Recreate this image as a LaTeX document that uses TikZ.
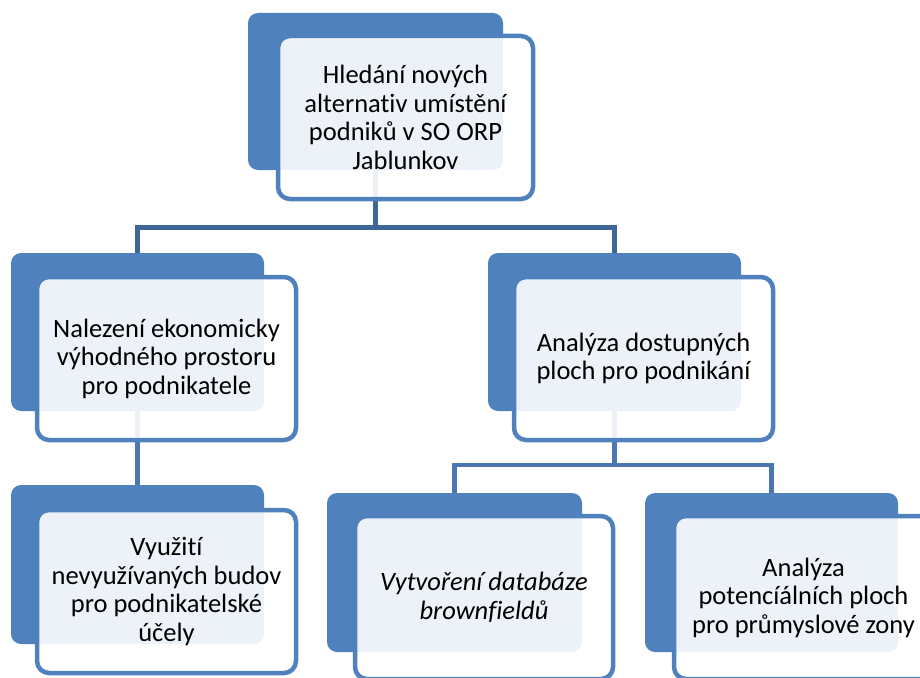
\documentclass[tikz,border=0pt]{standalone}
\usepackage{fontspec}
\setmainfont{Carlito}[Ligatures=NoCommon]
\definecolor{boxblue}{HTML}{4F81BD}
\definecolor{linetop}{HTML}{3E6696}
\definecolor{linesub}{HTML}{4A77B0}
\begin{document}
\begin{tikzpicture}[x=1pt,y=-1pt,
  backbox/.style={rectangle, rounded corners=10pt, fill=boxblue, draw=none, inner sep=0pt},
  frontbox/.style={rectangle, rounded corners=12pt, fill=white, fill opacity=0.9, text opacity=1,
    draw=boxblue, draw opacity=1, line width=4.5pt, inner sep=0pt, align=center,
    font=\fontsize{26.5}{28.5}\selectfont},
  contop/.style={draw=linetop, line width=4.5pt},
  consub/.style={draw=linesub, line width=4.5pt}]
\useasboundingbox (0,0) rectangle (920,677);
\clip (0,0) rectangle (920,677);
% junction coordinates
\coordinate (tj) at (375.5,227.5);
\coordinate (rj) at (614.5,465);
% connectors (drawn first, behind all boxes)
\coordinate (tbc) at (375.5,91.5);
\coordinate (lbc) at (137.5,332);
\coordinate (rbc) at (614.5,332);
\coordinate (llbc) at (137.5,564.5);
\coordinate (mbc) at (454.5,572.5);
\coordinate (rrbc) at (771.5,572.5);
\draw[contop] (tbc) -- (tj) -| (lbc);
\draw[contop] (tj) -| (rbc);
\draw[consub] (lbc) -- (llbc);
\draw[consub] (rbc) -- (rj) -| (mbc);
\draw[consub] (rj) -| (rrbc);
% back boxes
\node[backbox, minimum width=255pt, minimum height=157pt] (tb) at (tbc) {};
\node[backbox, minimum width=253pt, minimum height=158pt] (lb) at (lbc) {};
\node[backbox, minimum width=253pt, minimum height=158pt] (rb) at (rbc) {};
\node[backbox, minimum width=253pt, minimum height=159pt] (llb) at (llbc) {};
\node[backbox, minimum width=255pt, minimum height=159pt] (mb) at (mbc) {};
\node[backbox, minimum width=253pt, minimum height=159pt] (rrb) at (rrbc) {};
% front boxes
\node[frontbox, minimum width=255pt, minimum height=163pt] (tf) at (405.5,117.5)
  {Hledání nových\\alternativ umístění\\podniků v SO ORP\\Jablunkov};
\node[frontbox, minimum width=259pt, minimum height=163pt] (lf) at (166.5,358.5)
  {Nalezení ekonomicky\\výhodného prostoru\\pro podnikatele};
\node[frontbox, minimum width=259pt, minimum height=163pt] (rf) at (643.5,358.5)
  {Analýza dostupných\\ploch pro podnikání};
\node[frontbox, minimum width=259pt, minimum height=163pt] (llf) at (166.5,591.5)
  {Využití\\nevyužívaných budov\\pro podnikatelské\\účely};
\node[frontbox, minimum width=258pt, minimum height=163pt] (mf) at (484,597.5)
  {\itshape Vytvoření databáze\\\itshape brownfieldů};
\node[frontbox, minimum width=259pt, minimum height=163pt] (rrf) at (803.5,597.5)
  {Analýza\\potencíálních ploch\\pro průmyslové zony};
\end{tikzpicture}
\end{document}
